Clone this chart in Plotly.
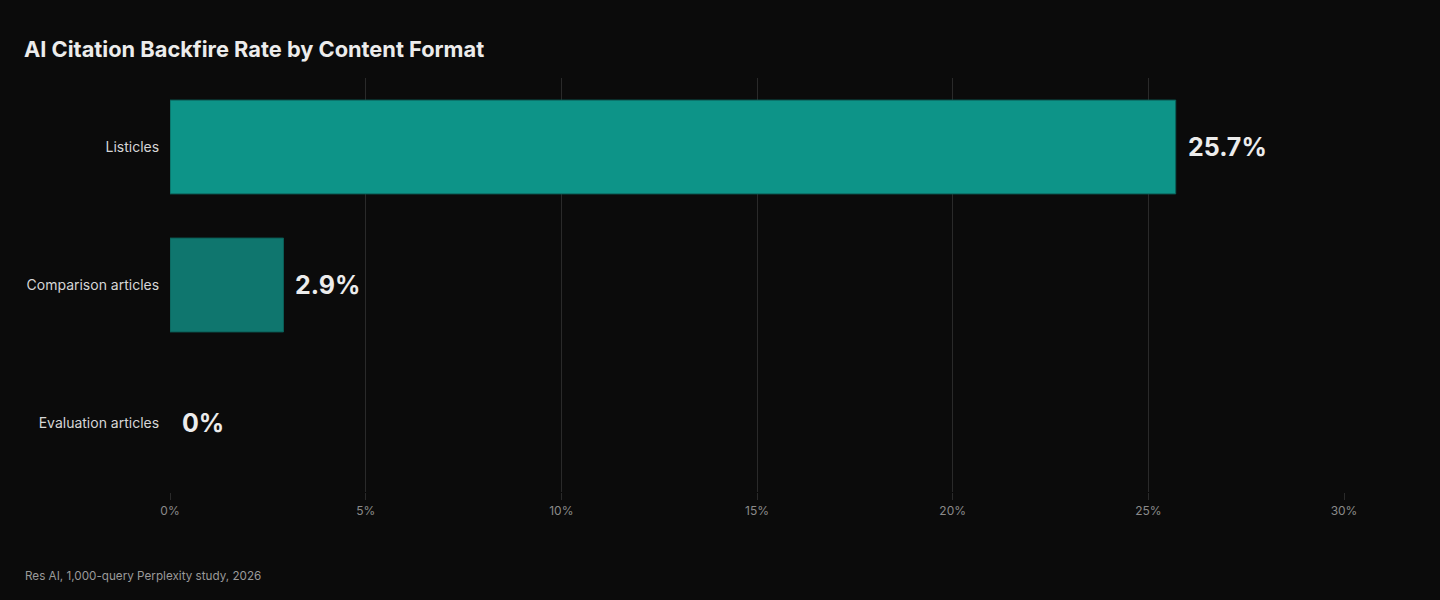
import plotly.graph_objects as go

formats = ["Listicles", "Comparison articles", "Evaluation articles"]
rates = [25.7, 2.9, 0]
value_labels = ["25.7%", "2.9%", "0%"]
bar_colors = ["#0d9488", "#0f766e", "#115e59"]
x_ticks = [0, 5, 10, 15, 20, 25, 30]
x_tick_text = ["0%", "5%", "10%", "15%", "20%", "25%", "30%"]

grid = "#2a2a2a"

fig = go.Figure()
fig.add_trace(go.Bar(
    x=rates,
    y=formats,
    orientation="h",
    # no outline on the empty bar, otherwise it shows up as a sliver at 0
    marker=dict(color=bar_colors,
                line=dict(color="#0b5e57", width=[1 if r > 0 else 0 for r in rates])),
    hoverinfo="skip",
))

# value labels to the right of each bar
for f, r, t in zip(formats, rates, value_labels):
    fig.add_annotation(x=r, y=f, text=t, xanchor="left", yanchor="middle",
                       xshift=10, showarrow=False,
                       font=dict(family="Inter", size=25, color="#ececec", weight=700))

fig.add_annotation(text="AI Citation Backfire Rate by Content Format",
                   xref="paper", yref="paper", x=-0.126, y=1.0, yshift=29,
                   xanchor="left", yanchor="middle", showarrow=False,
                   font=dict(family="Inter", size=21.8, color="#ececec", weight=700))
fig.add_annotation(text="Res AI, 1,000-query Perplexity study, 2026",
                   xref="paper", yref="paper", x=-0.1255, y=0, yshift=-84,
                   xanchor="left", yanchor="middle", showarrow=False,
                   font=dict(family="Inter", size=11.7, color="#9a9a9a"))

fig.update_layout(
    width=1440, height=600,
    paper_bgcolor="#0b0b0b", plot_bgcolor="#0b0b0b",
    margin=dict(l=170, r=96, t=78, b=108),
    bargap=0.32,
    showlegend=False,
    xaxis=dict(range=[0, 30], tickvals=x_ticks, ticktext=x_tick_text,
               showgrid=True, gridcolor=grid, gridwidth=1,
               ticks="outside", ticklen=7, tickcolor=grid, tickwidth=1,
               ticklabelstandoff=1,
               zeroline=False, showline=False,
               tickfont=dict(family="Inter", size=12, color="#8a8a8a")),
    yaxis=dict(autorange="reversed", showgrid=False, zeroline=False,
               ticksuffix="  ", ticklabelstandoff=2,
               tickfont=dict(family="Inter", size=14, color="#d6d6d6")),
)

fig.write_html("out.html", config={"displayModeBar": False},
               post_script="document.body.style.margin='0';")
